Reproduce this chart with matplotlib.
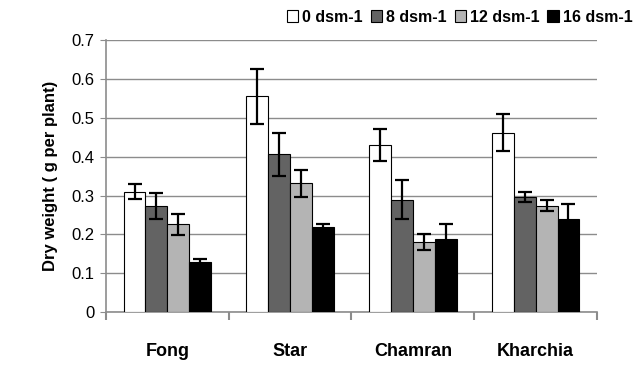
import numpy as np
from matplotlib import pyplot as plt

cultivars = ['Fong', 'Star', 'Chamran', 'Kharchia']
levels = ['0 dsm-1', '8 dsm-1', '12 dsm-1', '16 dsm-1']
dry_weight = [
    [0.31, 0.555, 0.43, 0.462],   # 0 dsm-1
    [0.273, 0.406, 0.289, 0.296],  # 8 dsm-1
    [0.226, 0.332, 0.18, 0.274],  # 12 dsm-1
    [0.129, 0.219, 0.188, 0.239],  # 16 dsm-1
]
errors = [
    [0.02, 0.07, 0.04, 0.048],
    [0.033, 0.055, 0.05, 0.012],
    [0.027, 0.035, 0.02, 0.014],
    [0.007, 0.007, 0.038, 0.04],
]
colors = ['#ffffff', '#636363', '#b4b4b4', '#000000']

plt.rcParams['font.family'] = ['Liberation Sans', 'DejaVu Sans']

fig = plt.figure(figsize=(6.42, 3.65), dpi=100)
ax = fig.add_axes([0.165, 0.145, 0.765, 0.745])

x = np.arange(len(cultivars))
width = 0.178
for i, (vals, errs, col) in enumerate(zip(dry_weight, errors, colors)):
    pos = x + (i - 1.5) * width
    ax.bar(pos, vals, width, color=col, edgecolor='black', linewidth=0.8,
           label=levels[i], zorder=3)
    ax.errorbar(pos, vals, yerr=errs, fmt='none', ecolor='black',
                elinewidth=1.6, capsize=5, capthick=1.6, zorder=4)

ax.set_xlim(-0.5, len(cultivars) - 0.5)
ax.set_ylim(0, 0.7)
ax.set_yticks(np.arange(0, 0.71, 0.1))
ax.set_yticklabels(['0', '0.1', '0.2', '0.3', '0.4', '0.5', '0.6', '0.7'], fontsize=12)
ax.yaxis.grid(True, color='#8c8c8c', linewidth=1, zorder=0)

ax.set_xticks(np.arange(-0.5, len(cultivars), 1.0))
ax.set_xticklabels([])
ax.set_xticks(x, minor=True)
ax.set_xticklabels(cultivars, minor=True, fontsize=13, fontweight='bold')
ax.tick_params(axis='x', which='major', length=6, color='#8c8c8c', width=1.5)
ax.tick_params(axis='x', which='minor', length=0, pad=22)
ax.tick_params(axis='y', length=4, color='#8c8c8c', pad=4)

for s in ['top', 'right']:
    ax.spines[s].set_visible(False)
for s in ['left', 'bottom']:
    ax.spines[s].set_color('#8c8c8c')
    ax.spines[s].set_linewidth(1.2)

ax.set_ylabel('Dry weight ( g per plant)', fontsize=12, fontweight='bold', labelpad=10)

fig.legend(*ax.get_legend_handles_labels(), loc='upper right',
           bbox_to_anchor=(1.0, 1.0), ncol=4, frameon=False,
           prop={'weight': 'bold', 'size': 11.5}, handlelength=0.7, handleheight=0.7,
           handletextpad=0.25, columnspacing=0.5, borderaxespad=0.3, borderpad=0.3)

fig.savefig('out.png', dpi=100)
